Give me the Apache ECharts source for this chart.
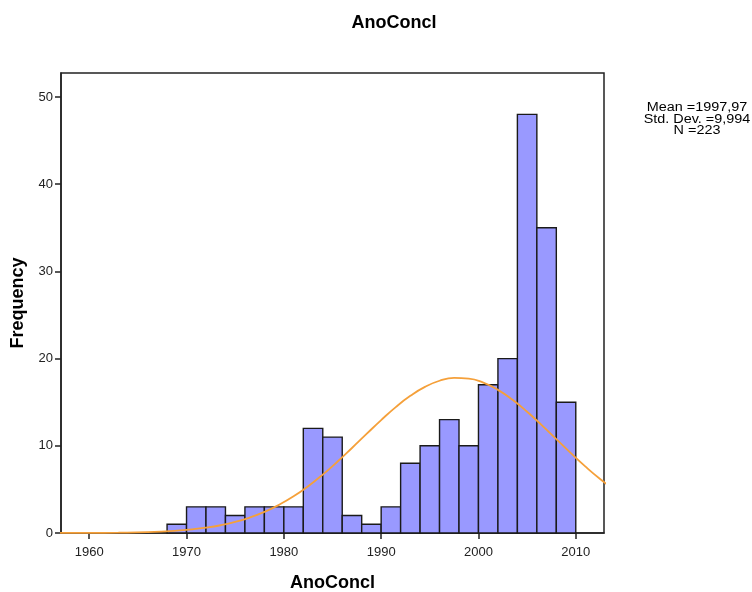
<!DOCTYPE html>
<html>
<head>
<meta charset="utf-8">
<script src="https://cdn.jsdelivr.net/npm/echarts@6/dist/echarts.min.js"></script>
<style>html,body{margin:0;padding:0;background:#fff}#c{width:752px;height:592px}</style>
</head>
<body>
<div id="c"></div>
<script>
// Histogram bins (start year, width 2) and counts
var binStarts = [1968,1970,1972,1974,1976,1978,1980,1982,1984,1986,1988,1990,1992,1994,1996,1998,2000,2002,2004,2006,2008];
var counts    = [1,3,3,2,3,3,3,12,11,2,1,3,8,10,13,10,17,20,48,35,15];
var binWidth = 2;
// Normal curve points
var curveX = [1954,1957,1960,1963,1966,1969,1970.5,1972,1973.5,1975,1976.5,1978,1979.5,1981,1982.5,1984,1985.5,1987,1988.5,1990,1991.5,1993,1994.5,1996,1997.5,1999,2000.5,2002,2003.5,2005,2006.5,2008,2009.5,2011,2012.5,2014];
var curveY = [0.001,0.004,0.013,0.039,0.107,0.267,0.407,0.608,0.889,1.27,1.77,2.42,3.23,4.21,5.37,6.70,8.17,9.75,11.36,12.95,14.44,15.73,16.76,17.46,17.78,17.71,17.24,16.41,15.27,13.90,12.37,10.76,9.15,7.61,6.19,4.92];
var xTicks = [1960,1970,1980,1990,2000,2010];
var yTicks = [0,10,20,30,40,50];
var statsText = ['Mean =1997,97','Std. Dev. =9,994','N =223'];

var barData = binStarts.map(function(s,i){return [s, s+binWidth, counts[i]];});
var lineData = curveX.map(function(x,i){return [x, curveY[i]];});

var font = 'Liberation Sans, Arial, sans-serif';
var chart = echarts.init(document.getElementById('c'));
chart.setOption({
  animation:false,
  backgroundColor:'#fff',
  title:{text:'AnoConcl',left:389,top:9,textAlign:'center',
    textStyle:{fontFamily:font,fontSize:18,fontWeight:'bold',color:'#000'}},
  grid:{left:61,right:148,top:73,bottom:59,outerBoundsMode:'none',containLabel:false,show:true,borderColor:'#222',borderWidth:1.5,backgroundColor:'#fff'},
  xAxis:{type:'value',min:1957.1,max:2012.9,
    name:'AnoConcl',nameLocation:'middle',nameGap:41,
    nameTextStyle:{fontFamily:font,fontSize:18,fontWeight:'bold',color:'#000'},
    axisLine:{show:true,lineStyle:{color:'#222',width:1.5}},
    axisTick:{show:true,length:6,customValues:xTicks,lineStyle:{color:'#222',width:1.5}},
    axisLabel:{customValues:xTicks,formatter:function(v){return String(v);},fontFamily:font,fontSize:13,color:'#222',margin:13},
    splitLine:{show:false}},
  yAxis:{type:'value',min:0,max:52.75,
    name:'Frequency',nameLocation:'middle',nameGap:34,
    nameTextStyle:{fontFamily:font,fontSize:18,fontWeight:'bold',color:'#000'},
    axisLine:{show:true,lineStyle:{color:'#222',width:1.5}},
    axisTick:{show:true,length:6,customValues:yTicks,lineStyle:{color:'#222',width:1.5}},
    axisLabel:{customValues:yTicks,fontFamily:font,fontSize:13,color:'#222',margin:8},
    splitLine:{show:false}},
  series:[
    {type:'custom',data:barData,
      renderItem:function(params,api){
        var p0=api.coord([api.value(0),api.value(2)]);
        var p1=api.coord([api.value(1),0]);
        return {type:'rect',shape:{x:p0[0],y:p0[1],width:p1[0]-p0[0],height:p1[1]-p0[1]},
          style:{fill:'#9999FF',stroke:'#1a1a1a',lineWidth:1.4}};
      },
      encode:{x:[0,1],y:2},z:2},
    {type:'line',data:lineData,smooth:true,showSymbol:false,symbol:'none',clip:true,
      lineStyle:{color:'#F5A03A',width:1.8},z:3}
  ],
  graphic:[
    {type:'text',x:697,y:102,scaleX:1.2,scaleY:1,
      style:{text:statsText.join('\n'),x:0,y:0,textAlign:'center',textVerticalAlign:'top',
      fontFamily:font,fontSize:12,lineHeight:11.5,fill:'#000'}}
  ]
});
</script>
</body>
</html>
